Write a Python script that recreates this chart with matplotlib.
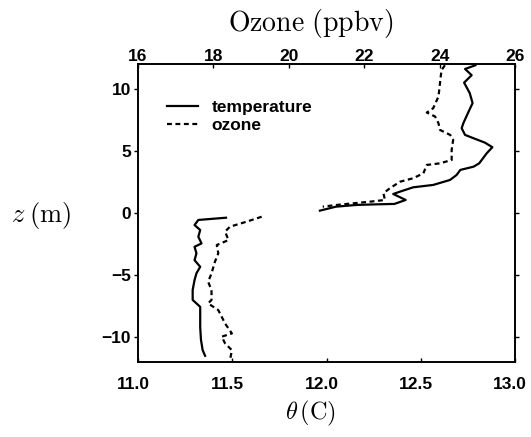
import numpy as np
import matplotlib
matplotlib.use("Agg")
import matplotlib.pyplot as plt
from matplotlib.transforms import ScaledTranslation

plt.rcParams['mathtext.fontset'] = 'cm'

# Temperature profile (theta in C) versus height z (m); two segments split at the surface
temp_z_upper = [11.9, 11.6, 11.1, 10.5, 9.65, 8.85, 8.04, 7.23, 6.83, 6.29, 6.02, 5.67,
                5.3, 4.81, 4.0, 3.73, 3.47, 3.06, 2.66, 2.26, 2.07, 1.72, 1.53, 1.05,
                0.73, 0.7, 0.65, 0.51, 0.19]
temp_upper = [12.79, 12.735, 12.77, 12.73, 12.76, 12.775, 12.75, 12.726, 12.717, 12.735,
              12.78, 12.84, 12.88, 12.85, 12.81, 12.78, 12.71, 12.69, 12.655, 12.566,
              12.46, 12.39, 12.354, 12.42, 12.36, 12.27, 12.16, 12.05, 11.965]
temp_z_lower = [-0.38, -0.56, -0.97, -1.37, -1.91, -2.45, -2.72, -3.25, -3.8, -4.33,
                -4.86, -5.4, -6.2, -7.0, -7.56, -8.09, -9.2, -10.2, -11.05, -11.5]
temp_lower = [11.467, 11.32, 11.30, 11.33, 11.32, 11.337, 11.30, 11.31, 11.30, 11.33,
              11.31, 11.30, 11.29, 11.29, 11.33, 11.33, 11.33, 11.334, 11.343, 11.356]

# Ozone profile (ppbv) versus height z (m)
ozone_z_upper = [11.9, 11.5, 10.46, 9.38, 8.44, 8.09, 7.77, 7.23, 6.69, 6.29, 5.89, 5.08,
                 4.27, 4.0, 3.87, 3.2, 2.8, 2.52, 1.99, 1.59, 1.05, 0.91, 0.78, 0.65, 0.51]
ozone_upper = [24.14, 24.05, 24.01, 23.97, 23.83, 23.66, 23.88, 23.97, 24.01, 24.28, 24.36,
               24.32, 24.32, 24.01, 23.66, 23.57, 23.30, 22.95, 22.68, 22.51, 22.55, 22.15,
               21.71, 21.27, 20.9]
ozone_z_lower = [-0.3, -0.7, -1.1, -1.5, -2.18, -2.58, -3.25, -3.93, -4.86, -5.54, -6.2,
                 -7.0, -7.28, -7.82, -8.36, -8.9, -9.7, -9.96, -10.5, -11.05, -11.85]
ozone_lower = [19.28, 18.88, 18.44, 18.31, 18.40, 18.09, 18.13, 18.04, 17.95, 17.86, 17.95,
               17.95, 17.86, 18.13, 18.22, 18.31, 18.49, 18.22, 18.31, 18.49, 18.44]

theta_ticks = [11.0, 11.5, 12.0, 12.5, 13.0]
ozone_ticks = [16, 18, 20, 22, 24, 26]
z_ticks = [-10, -5, 0, 5, 10]

W, H = 531, 437
fig = plt.figure(figsize=(W / 100, H / 100), dpi=100)
ax = fig.add_axes([138 / W, 1 - 362 / H, (515 - 138) / W, (362 - 64) / H])
ax2 = ax.twiny()

tick_font = dict(family='Liberation Sans', weight='bold', size=12.5)

def join(zu, vu, zl, vl):
    z = list(zu) + [np.nan] + list(zl)
    v = list(vu) + [np.nan] + list(vl)
    return np.array(v, float), np.array(z, float)

tv, tz = join(temp_z_upper, temp_upper, temp_z_lower, temp_lower)
ov, oz = join(ozone_z_upper, ozone_upper, ozone_z_lower, ozone_lower)

l1, = ax.plot(tv, tz, color='black', lw=1.6, label='temperature')
l2, = ax2.plot(ov, oz, color='black', lw=1.6, ls=(0, (2.2, 1.6)), label='ozone')

ax.set_xlim(11.0, 13.0)
ax2.set_xlim(16, 26)
ax.set_ylim(-12, 12)

ax.set_xticks(theta_ticks)
ax.set_xticklabels([f"{t:.1f}" for t in theta_ticks], **tick_font)
ax.set_yticks(z_ticks)
ax.set_yticklabels([f"{t}".replace('-', '\u2212') for t in z_ticks], **tick_font)
ax2.set_xticks(ozone_ticks)
ax2.set_xticklabels([str(t) for t in ozone_ticks], **tick_font)

ax.tick_params(axis='x', direction='in', length=3, width=1, pad=11)
ax.tick_params(axis='y', direction='out', length=3, width=1, pad=2, right=True)
ax2.tick_params(axis='x', direction='in', length=3, width=1, pad=0)
for a in (ax, ax2):
    for s in a.spines.values():
        s.set_linewidth(1.2)

# bottom tick labels sit slightly left of their ticks
shift = ScaledTranslation(-5 / 100, 0, fig.dpi_scale_trans)
for lbl in ax.get_xticklabels():
    lbl.set_transform(lbl.get_transform() + shift)

fig.text(311 / W, 1 - 23 / H, r'$\mathrm{Ozone\ (ppbv)}$', ha='center', va='center', fontsize=20)
fig.text(41 / W, 1 - 215 / H, r'$z\;(\mathrm{m})$', ha='center', va='center', fontsize=19)
fig.text(311 / W, 1 - 413 / H, r'$\theta\,(\mathrm{C})$', ha='center', va='center', fontsize=17.5)

ax.legend(handles=[l1, l2], loc='upper left', bbox_to_anchor=(0.077, 0.88),
          frameon=False, borderaxespad=0, borderpad=0, handlelength=1.8,
          handletextpad=0.75, labelspacing=0.15,
          prop=dict(family='Liberation Sans', weight='bold', size=12.5))

fig.savefig('out.png', dpi=100)
